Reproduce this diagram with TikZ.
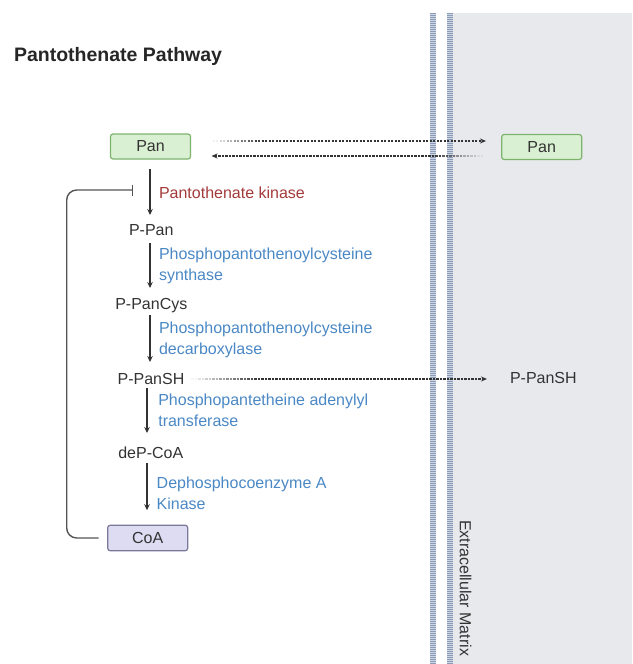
\documentclass[tikz,border=0pt]{standalone}
\usepackage{fontspec}
\setmainfont{Liberation Sans}
\usetikzlibrary{arrows.meta,calc}
\definecolor{txt}{HTML}{333333}
\definecolor{enzred}{HTML}{A33A3A}
\definecolor{enzblue}{HTML}{4A88C5}
\definecolor{pangreenfill}{HTML}{DAF0D3}
\definecolor{pangreendraw}{HTML}{7DB36C}
\definecolor{coafill}{HTML}{DEDCF3}
\definecolor{coadraw}{HTML}{7B7799}
\definecolor{bgc}{HTML}{E8E9ED}
\definecolor{bandfill}{HTML}{CDD6E3}
\definecolor{bandstripe}{HTML}{8C9CB8}
\definecolor{linegrey}{HTML}{555555}
\begin{document}
\begin{tikzpicture}[x=1pt,y=-1pt,
  every node/.style={inner sep=0pt, outer sep=0pt, font=\fontsize{16}{21}\selectfont, text=txt},
  titletext/.style={font=\fontsize{19.5}{24}\selectfont\bfseries, text=black!85, anchor=base west},
  metab/.style={anchor=base},
  enzR/.style={text=enzred, anchor=base west},
  enzB/.style={text=enzblue, anchor=north west, align=left},
  panbox/.style={draw=pangreendraw, fill=pangreenfill, line width=1.2pt, rounded corners=2.5pt, minimum width=80pt, minimum height=25pt},
  coabox/.style={draw=coadraw, fill=coafill, line width=1.2pt, rounded corners=2.5pt, minimum width=80pt, minimum height=25.5pt},
  rxn/.style={draw=txt, line width=1.4pt, -{Stealth[length=6pt,width=5.5pt]}},
  dots/.style={draw=txt, line width=1.5pt, dash pattern=on 2.2pt off 1.3pt},
  dotarrow/.style={dots, -{Stealth[length=6pt,width=5pt]}},
  inhib/.style={draw=linegrey, line width=1.4pt, rounded corners=10pt, -{Bar[width=11pt]}},
]
\useasboundingbox (0,0) rectangle (632,664);
% extracellular region and membrane
\fill[bgc] (453,13) rectangle (632,664);
\fill[bandfill] (430,13) rectangle (436,664);
\fill[bandfill] (447,13) rectangle (453,664);
\draw[bandstripe, line width=6pt, dash pattern=on 0.8pt off 1.2pt] (433,13) -- (433,664);
\draw[bandstripe, line width=6pt, dash pattern=on 0.8pt off 1.2pt] (450,13) -- (450,664);

% title
\node[titletext] (title) at (14,61) {Pantothenate Pathway};

% metabolites
\node[panbox] (panL) at (150.5,146.5) {Pan};
\node[panbox] (panR) at (541.7,147) {Pan};
\node[metab] (pPan) at (151.3,235) {P-Pan};
\node[metab] (pCys) at (151.3,309) {P-PanCys};
\node[metab] (pSH) at (151,384) {P-PanSH};
\node[anchor=base west] (pSHr) at (510,383.5) {P-PanSH};
\node[metab] (deP) at (150.8,458) {deP-CoA};
\node[coabox] (coa) at (147.7,538) {CoA};

% enzymes
\node[enzR] (e1) at (159,198) {Pantothenate kinase};
\node[enzB] (e2) at (159,247.5) {Phosphopantothenoylcysteine\\synthase};
\node[enzB] (e3) at (159,321.5) {Phosphopantothenoylcysteine\\decarboxylase};
\node[enzB] (e4) at (158.3,394) {Phosphopantetheine adenylyl\\transferase};
\node[enzB] (e5) at (156.7,476.8) {Dephosphocoenzyme A\\Kinase};

% reaction arrows
\draw[rxn] ([shift={(-0.5,10)}]panL.south) -- ([shift={(-1.3,-20)}]pPan.base);
\draw[rxn] ([shift={(-1.3,8)}]pPan.base) -- ([shift={(-1.3,-21)}]pCys.base);
\draw[rxn] ([shift={(-1.3,6)}]pCys.base) -- ([shift={(-1,-22)}]pSH.base);
\draw[rxn] ([shift={(-4,4)}]pSH.base) -- ([shift={(-3.8,-25)}]deP.base);
\draw[rxn] ([shift={(-3.8,5)}]deP.base) -- ([shift={(-0.7,-15)}]coa.north);

% feedback inhibition
\coordinate (inh) at (133,190);
\draw[inhib] ([shift={(-9,0)}]coa.west) -- ++(-32,0) |- (inh);

% transport arrows (with faded tails)
\coordinate (t0) at ($(panL.east)+(22,-5.5)$);
\coordinate (t1) at ($(t0)+(49,0)$);
\coordinate (t2) at (t0 -| panR.west);
\foreach \i in {0,...,6}{
  \pgfmathsetmacro\op{(\i+0.5)/7}
  \draw[dots, draw opacity=\op] ($(t0)!{\i/7}!(t1)$) -- ($(t0)!{(\i+1)/7}!(t1)$);
}
\draw[dotarrow, shorten >=15.7pt] (t1) -- (t2);

\coordinate (b0) at ($(panR.west)+(-18.7,9)$);
\coordinate (b1) at ($(b0)+(-49,0)$);
\coordinate (b2) at (b0 -| panL.east);
\foreach \i in {0,...,6}{
  \pgfmathsetmacro\op{(\i+0.5)/7}
  \draw[dots, draw opacity=\op] ($(b0)!{\i/7}!(b1)$) -- ($(b0)!{(\i+1)/7}!(b1)$);
}
\draw[dotarrow, shorten >=21pt] (b1) -- (b2);

\coordinate (s0) at ($(pSH.base east)+(7,-5)$);
\coordinate (s1) at ($(s0)+(70,0)$);
\coordinate (s2) at (s0 -| pSHr.west);
\foreach \i in {0,...,9}{
  \pgfmathsetmacro\op{(\i+0.5)/10}
  \draw[dots, draw opacity=\op] ($(s0)!{\i/10}!(s1)$) -- ($(s0)!{(\i+1)/10}!(s1)$);
}
\draw[dotarrow, shorten >=23pt] (s1) -- (s2);

% region label
\node[rotate=-90, anchor=west] (ecm) at (465.5,520) {Extracellular Matrix};
\end{tikzpicture}
\end{document}
